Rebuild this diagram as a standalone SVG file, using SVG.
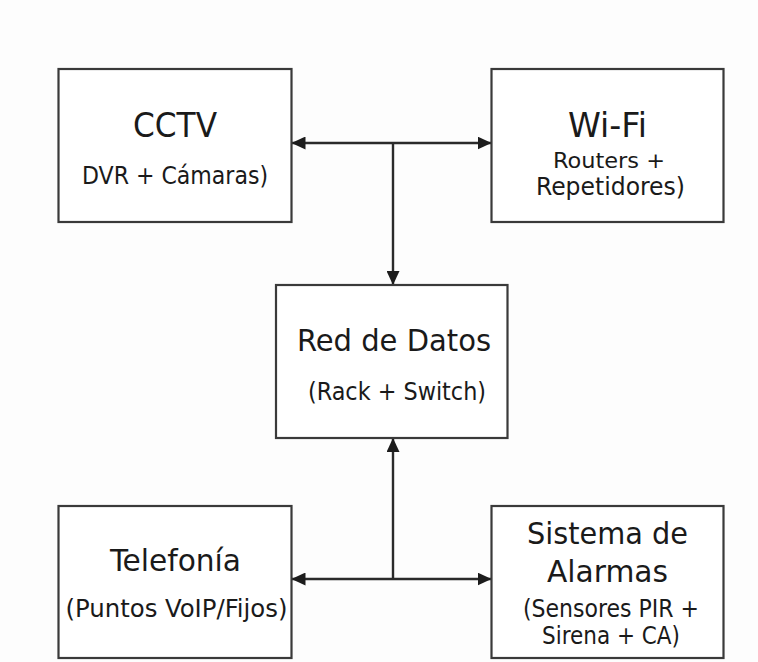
<svg xmlns="http://www.w3.org/2000/svg" width="758" height="662" viewBox="0 0 758 662">
  <defs>
    <marker id="arrow" viewBox="0 0 14 13" markerWidth="14" markerHeight="13" refX="14" refY="6.5" markerUnits="userSpaceOnUse" orient="auto-start-reverse">
      <path d="M0,0 L14,6.5 L0,13 Z" fill="#1c1c1c"/>
    </marker>
    <style>
      .box { fill: #ffffff; stroke: #3a3a3a; stroke-width: 2.2; }
      .conn { fill: none; stroke: #2a2a2a; stroke-width: 2.4; }
      text { font-family: "DejaVu Sans Condensed", "DejaVu Sans", sans-serif; fill: #1a1a1a; text-anchor: middle; }
      .title { font-size: 31px; }
      .sub { font-size: 24px; }
    </style>
  </defs>
  <rect width="758" height="662" fill="#fdfdfd"/>

  <g id="connectors">
    <path class="conn" d="M291.5,143 H491.5" marker-start="url(#arrow)" marker-end="url(#arrow)"/>
    <path class="conn" d="M393,143 V285" marker-end="url(#arrow)"/>
    <path class="conn" d="M393,579 V438" marker-end="url(#arrow)"/>
    <path class="conn" d="M291.5,579 H491.5" marker-start="url(#arrow)" marker-end="url(#arrow)"/>
  </g>

  <g id="cctv">
    <rect class="box" x="58.5" y="69" width="233" height="153"/>
    <text class="title" x="175" y="137" style="font-size:33px" textLength="84" lengthAdjust="spacingAndGlyphs">CCTV</text>
    <text class="sub" x="175" y="184" textLength="186" lengthAdjust="spacingAndGlyphs">DVR + Cámaras)</text>
  </g>

  <g id="wifi">
    <rect class="box" x="491.5" y="69" width="232" height="153"/>
    <text class="title" x="607.5" y="137" style="font-size:33px" textLength="79" lengthAdjust="spacingAndGlyphs">Wi-Fi</text>
    <text class="sub" x="609" y="168" style="font-size:22px" textLength="112" lengthAdjust="spacingAndGlyphs">Routers +</text>
    <text class="sub" x="610.5" y="195" textLength="149" lengthAdjust="spacingAndGlyphs">Repetidores)</text>
  </g>

  <g id="red-datos">
    <rect class="box" x="276" y="285" width="231.5" height="153"/>
    <text class="title" x="394" y="351" textLength="194" lengthAdjust="spacingAndGlyphs">Red de Datos</text>
    <text class="sub" x="397" y="400" style="font-size:25px" textLength="178" lengthAdjust="spacingAndGlyphs">(Rack + Switch)</text>
  </g>

  <g id="telefonia">
    <rect class="box" x="58.5" y="506" width="233" height="152"/>
    <text class="title" x="175.5" y="571" textLength="131" lengthAdjust="spacingAndGlyphs">Telefonía</text>
    <text class="sub" x="176.5" y="617" textLength="222" lengthAdjust="spacingAndGlyphs">(Puntos VoIP/Fijos)</text>
  </g>

  <g id="alarmas">
    <rect class="box" x="491.5" y="506" width="232" height="152"/>
    <text class="title" x="607.5" y="544" textLength="161" lengthAdjust="spacingAndGlyphs">Sistema de</text>
    <text class="title" x="607.5" y="582" textLength="121" lengthAdjust="spacingAndGlyphs">Alarmas</text>
    <text class="sub" x="611" y="617" textLength="176" lengthAdjust="spacingAndGlyphs">(Sensores PIR +</text>
    <text class="sub" x="611" y="644" textLength="138" lengthAdjust="spacingAndGlyphs">Sirena + CA)</text>
  </g>
</svg>
